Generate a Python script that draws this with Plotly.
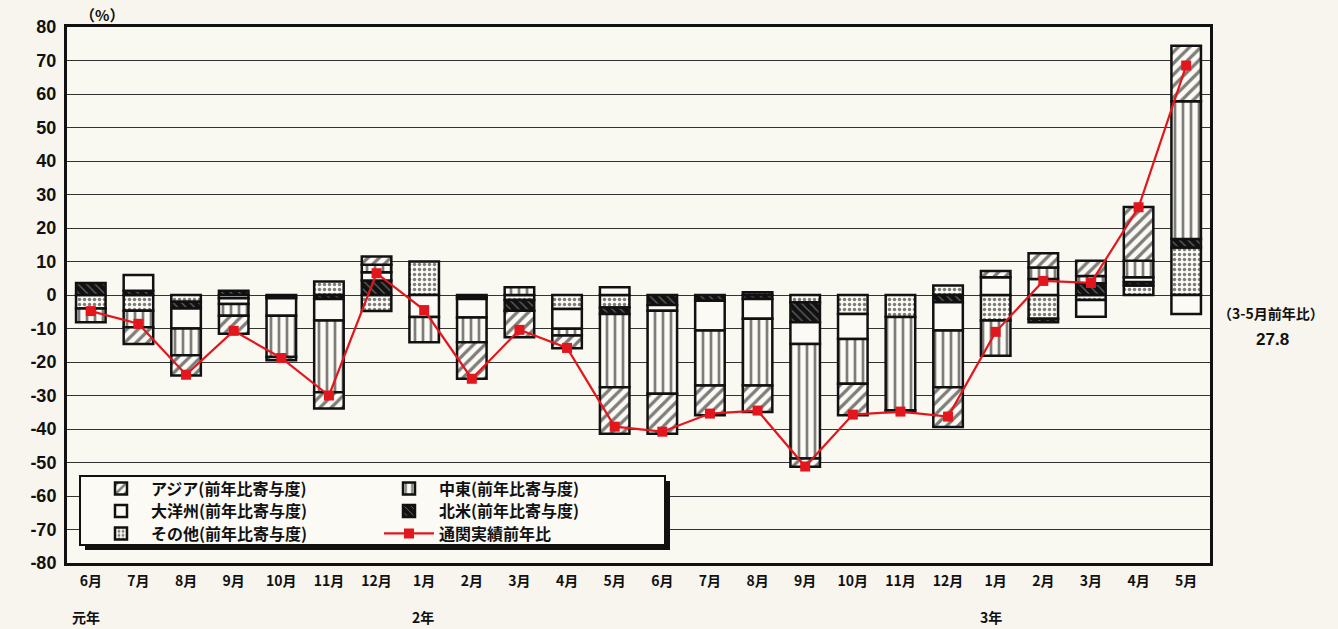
import plotly.graph_objects as go

# ---------------- data ----------------
months = ["6月", "7月", "8月", "9月", "10月", "11月", "12月",
          "1月", "2月", "3月", "4月", "5月", "6月", "7月", "8月", "9月", "10月", "11月", "12月",
          "1月", "2月", "3月", "4月", "5月"]
years = ["元年"] * 7 + ["2年"] * 12 + ["3年"] * 5

asia = [0, -5.0, -6.0, -5.4, -1.0, -4.9, 2.5, 0, -10.9, -7.9, -3.8, -13.9,
        -11.9, -8.9, -7.9, -2.5, -9.4, -0.5, -11.9, 1.9, 4.3, 4.5, 16.1, 16.6]
middle_east = [-4.1, -4.9, -8.0, -3.5, -12.3, -21.4, 2.2, -7.5, -7.4, 2.3, -2.0, -21.8,
               -24.8, -16.4, -19.9, -34.2, -13.4, -27.8, -16.9, -10.5, 3.4, 2.2, 4.9, 41.1]
oceania = [0, 4.7, -6.0, -1.7, -5.2, -6.4, 2.5, -6.6, -5.5, 0, -5.9, 2.3,
           -1.7, -8.9, -5.9, -6.5, -7.4, 0, -8.4, 5.3, 4.8, -5.0, 1.4, -5.7]
north_america = [3.6, 1.3, -2.0, 1.3, -0.5, -1.2, 4.3, 0, -0.6, -3.2, 0, -2.0,
                 -3.0, -1.7, -1.2, -5.9, 0, 0, -2.2, 0, -1.0, 3.5, 1.1, 2.5]
other = [-4.0, -4.7, -2.0, -1.0, -0.5, 4.0, -4.8, 10.0, -0.6, -1.5, -4.2, -3.7,
         0, 0, 0.8, -2.2, -5.7, -6.6, 2.8, -7.6, -7.1, -1.5, 2.8, 14.2]
total = [-4.8, -8.6, -23.8, -10.7, -18.8, -30.0, 6.5, -4.5, -25.0, -10.4, -15.8, -39.3,
         -40.8, -35.4, -34.5, -51.2, -35.7, -34.8, -36.3, -11.0, 4.2, 3.6, 26.2, 68.5]

y_ticks = list(range(80, -90, -10))
period_note = "（3-5月前年比）"
period_value = "27.8"

# ---------------- figure ----------------
xkeys = [y + m for y, m in zip(years, months)]

def nz(vals):
    return [v if v != 0 else None for v in vals]

FONT = "Liberation Sans, Noto Sans CJK JP, sans-serif"
JFONT = "Noto Sans CJK JP, sans-serif"
BG = "#f7f5ed"
W, H = 1338, 629
ML, MR, MT, MB = 67, 128, 27, 66
PW, PH = W - ML - MR, H - MT - MB

def px_x(p):
    return (p - ML) / PW

def px_y(p):
    return (H - MB - p) / PH

fig = go.Figure()

ROWS = [488.5, 511, 533.5]

# (name, values, pattern, legend id, legend pixel x, legend row pixel y)
series = [
    ("その他(前年比寄与度)", other, dict(shape=".", bgcolor="#fbfaf4", fgcolor="#000", size=5, solidity=0.38), "legend5", 91, ROWS[2]),
    ("北米(前年比寄与度)", north_america, dict(shape="\\", bgcolor="#111", fgcolor="#bbb", size=6, solidity=0.2), "legend4", 379, ROWS[1]),
    ("大洋州(前年比寄与度)", oceania, dict(shape="", bgcolor="#fbfaf4"), "legend3", 91, ROWS[1]),
    ("中東(前年比寄与度)", middle_east, dict(shape="|", bgcolor="#fbfaf4", fgcolor="#000", size=8, solidity=0.34), "legend2", 379, ROWS[0]),
    ("アジア(前年比寄与度)", asia, dict(shape="/", bgcolor="#fbfaf4", fgcolor="#000", size=8, solidity=0.4), "legend", 91, ROWS[0]),
]

legend_layout = {}
for name, vals, pat, lg, lpx, lpy in series:
    fig.add_trace(go.Bar(
        x=xkeys, y=nz(vals), name=name,
        marker=dict(color=pat.get("bgcolor"), pattern=pat,
                    line=dict(color="#111", width=2.5)),
        width=0.62, legend=lg,
    ))
    legend_layout[lg] = (lpx, lpy)

fig.add_trace(go.Scatter(
    x=xkeys, y=total, name="通関実績前年比", mode="lines+markers",
    line=dict(color="#e3161d", width=2.2),
    marker=dict(symbol="square", size=10, color="#e3161d"),
    legend="legend6",
))
legend_layout["legend6"] = (379, ROWS[2])

fig.update_layout(
    width=W, height=H,
    margin=dict(l=ML, r=MR, t=MT, b=MB),
    barmode="relative",
    paper_bgcolor=BG, plot_bgcolor="#f9f8f1",
    font=dict(family=FONT, size=14, color="#111"),
    showlegend=True,
)
for lg, (lpx, lpy) in legend_layout.items():
    fig.update_layout({lg: dict(
        x=px_x(lpx), y=px_y(lpy), xanchor="left", yanchor="middle",
        bgcolor="rgba(0,0,0,0)", borderwidth=0, tracegroupgap=0,
        font=dict(family=JFONT, size=16, color="#111", weight="bold"),
        itemwidth=50)})

fig.update_yaxes(
    range=[-80, 80], tickvals=y_ticks, ticktext=[str(v) for v in y_ticks],
    showgrid=True, gridcolor="#333", gridwidth=1.4,
    zeroline=True, zerolinecolor="#333", zerolinewidth=1.4,
    showline=True, linecolor="#111", linewidth=3, mirror=True,
    ticks="", ticklabelstandoff=4,
    tickfont=dict(family=FONT, size=18, color="#111", weight="bold"),
)
fig.update_xaxes(
    type="category", categoryorder="array", categoryarray=xkeys,
    range=[-0.5, len(xkeys) - 0.5],
    tickvals=xkeys, ticktext=months,
    showgrid=False, showline=True, linecolor="#111", linewidth=3, mirror=True,
    ticks="", ticklabelstandoff=3,
    tickfont=dict(family=JFONT, size=14, color="#111", weight="bold"),
)

# legend frame with shadow
lx0, lx1 = px_x(80), px_x(665)
ly0, ly1 = px_y(545), px_y(476)
dx, dy = 5 / PW, 5 / PH
fig.add_shape(type="rect", xref="paper", yref="paper",
              x0=lx0 + dx, x1=lx1 + dx, y0=ly0 - dy, y1=ly1 - dy,
              fillcolor="#111", line=dict(width=0), layer="above")
fig.add_shape(type="rect", xref="paper", yref="paper",
              x0=lx0, x1=lx1, y0=ly0, y1=ly1,
              fillcolor="#fbfaf5", line=dict(color="#111", width=2), layer="above")

# text annotations
fig.add_annotation(text="（%）", xref="paper", yref="paper", x=px_x(78), y=px_y(14),
                   xanchor="left", yanchor="middle", showarrow=False,
                   font=dict(family=JFONT, size=15, weight="bold"))
year_pos = [("元年", 70), ("2年", 410), ("3年", 978)]
for txt, px in year_pos:
    fig.add_annotation(text=txt, xref="paper", yref="paper", x=px_x(px), y=px_y(617),
                       xanchor="left", yanchor="middle", showarrow=False,
                       font=dict(family=JFONT, size=14, weight="bold"))
fig.add_annotation(text=period_note, xref="paper", yref="paper", x=px_x(1216),
                   y=px_y(313), xanchor="left", yanchor="middle", showarrow=False,
                   font=dict(family=JFONT, size=14, weight="bold"))
fig.add_annotation(text=period_value, xref="paper", yref="paper", x=px_x(1272),
                   y=px_y(340), xanchor="center", yanchor="middle", showarrow=False,
                   font=dict(family=FONT, size=17, weight="bold"))

fig.write_html("out.html", config={"displayModeBar": False},
               post_script="document.body.style.margin='0';")
